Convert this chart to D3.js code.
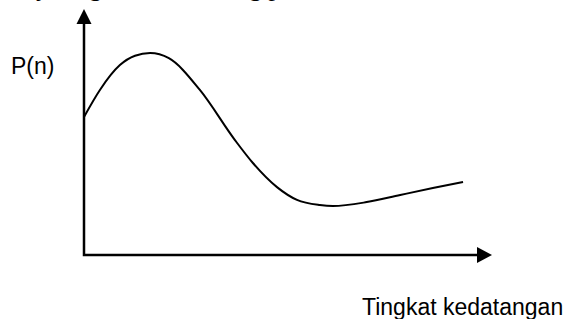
<!DOCTYPE html>
<html>
<head>
<meta charset="utf-8">
<script src="https://d3js.org/d3.v7.min.js"></script>
<style>
  body { margin: 0; background: #fff; }
  svg { display: block; }
</style>
</head>
<body>
<svg id="chart"></svg>
<script>
// curve values (0..100 along each axis)
var tingkat = [0, 3.9, 8.8, 12.5, 16.2, 20.8, 28.4, 37.0, 41.4, 47.3, 52.2, 57.8, 61.0, 69.3, 77.5, 85.5, 92.9];
var pn      = [56.1, 67.1, 77.2, 81.0, 82.1, 80.0, 67.1, 46.7, 37.4, 27.6, 22.4, 20.3, 19.9, 21.5, 24.4, 27.2, 29.7];

var yLabel = "P(n)";
var xLabel = "Tingkat kedatangan";

var width = 571,
    height = 319;

var svg = d3.select("#chart")
    .attr("width", width)
    .attr("height", height);

var x = d3.scaleLinear().domain([0, 100]).range([84, 492]);
var y = d3.scaleLinear().domain([0, 100]).range([255, 9]);

// cut-off line of text at the top of the page
svg.append("text")
    .attr("x", 36).attr("y", -4)
    .attr("textLength", 66).attr("lengthAdjust", "spacing")
    .style("font-family", "'Liberation Serif', 'Times New Roman', serif")
    .style("font-size", "26px")
    .text("yang");
svg.append("text")
    .attr("x", 236).attr("y", -4)
    .style("font-family", "'Liberation Serif', 'Times New Roman', serif")
    .style("font-size", "26px")
    .text("ng p");

// axes
var axes = svg.append("g")
    .attr("fill", "none")
    .attr("stroke", "#000")
    .attr("stroke-width", 2.5);

axes.append("path")
    .attr("d", "M" + x(0) + "," + (y(100) + 14) + "V" + y(0) + "H" + (x(100) - 14))
    .attr("stroke-linejoin", "miter")
    .attr("stroke-linecap", "square");

// arrow heads
svg.append("path")
    .attr("d", "M" + x(0) + "," + y(100) +
               "L" + (x(0) + 7.5) + "," + (y(100) + 15) +
               "L" + (x(0) - 7.5) + "," + (y(100) + 15) + "Z")
    .attr("fill", "#000");

svg.append("path")
    .attr("d", "M" + x(100) + "," + y(0) +
               "L" + (x(100) - 15) + "," + (y(0) - 8) +
               "L" + (x(100) - 15) + "," + (y(0) + 8) + "Z")
    .attr("fill", "#000");

// curve
var line = d3.line()
    .x(function(d, i) { return x(tingkat[i]); })
    .y(function(d) { return y(d); })
    .curve(d3.curveMonotoneX);

svg.append("path")
    .datum(pn)
    .attr("d", line)
    .attr("fill", "none")
    .attr("stroke", "#000")
    .attr("stroke-width", 2);

// labels
svg.append("text")
    .attr("x", 11).attr("y", 74)
    .style("font-family", "'Liberation Sans', Arial, sans-serif")
    .style("font-size", "23px")
    .text(yLabel);

svg.append("text")
    .attr("x", 362).attr("y", 315)
    .style("font-family", "'Liberation Sans', Arial, sans-serif")
    .style("font-size", "23px")
    .text(xLabel);
</script>
</body>
</html>
